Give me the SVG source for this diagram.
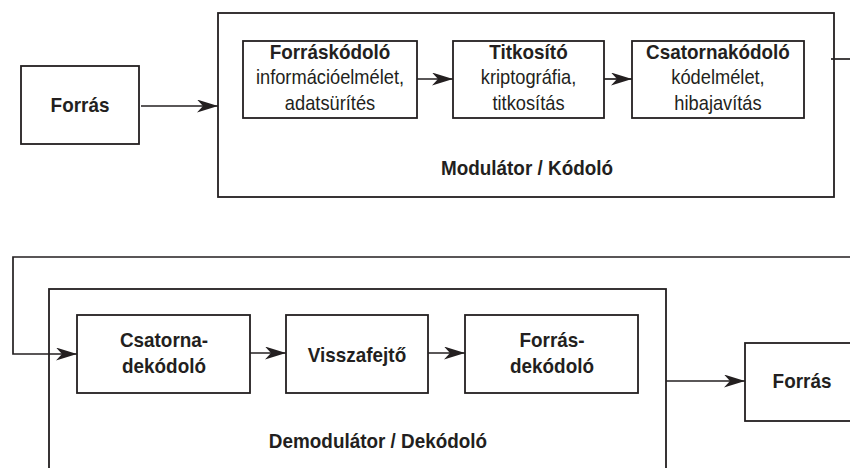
<svg xmlns="http://www.w3.org/2000/svg" width="850" height="468" viewBox="0 0 850 468">
<style>
.box{fill:none;stroke:#231f20;stroke-width:1.8}
.ln{fill:none;stroke:#231f20;stroke-width:1.7}
text{font-family:"Liberation Sans",Arial,sans-serif;font-size:21px;fill:#231f20;text-anchor:middle}
.b{font-weight:bold}
</style>
<defs>
<marker id="ah" viewBox="0 0 21 13" refX="21" refY="6.5" markerWidth="21" markerHeight="13" markerUnits="userSpaceOnUse" orient="auto">
<path d="M0,0 L21,6.5 L0,13 L6,6.5 Z" fill="#231f20"/>
</marker>
</defs>
<rect width="850" height="468" fill="#ffffff"/>
<g id="source">
<rect class="box" x="21" y="66" width="118" height="78"/>
<text class="b" transform="translate(80,112) scale(0.9,1)">Forrás</text>
</g>
<g id="modulator">
<rect class="box" x="218" y="13" width="616" height="184"/>
<text class="b" transform="translate(527,175) scale(0.9,1)">Modulátor / Kódoló</text>
</g>
<g id="source-encoder">
<rect class="box" x="243" y="41" width="174" height="77"/>
<text class="b" transform="translate(330,59) scale(0.9,1)">Forráskódoló</text>
<text transform="translate(330,84) scale(0.87,1)">információelmélet,</text>
<text transform="translate(330,110) scale(0.87,1)">adatsürítés</text>
</g>
<g id="encryptor">
<rect class="box" x="453" y="41" width="151" height="77"/>
<text class="b" transform="translate(528.5,59) scale(0.9,1)">Titkosító</text>
<text transform="translate(528.5,84) scale(0.87,1)">kriptográfia,</text>
<text transform="translate(528.5,110) scale(0.87,1)">titkosítás</text>
</g>
<g id="channel-encoder">
<rect class="box" x="632" y="41" width="172" height="77"/>
<text class="b" transform="translate(718,59) scale(0.9,1)">Csatornakódoló</text>
<text transform="translate(718,84) scale(0.87,1)">kódelmélet,</text>
<text transform="translate(718,110) scale(0.87,1)">hibajavítás</text>
</g>
<g id="demodulator">
<rect class="box" x="49" y="289" width="617" height="200"/>
<text class="b" transform="translate(378,448) scale(0.9,1)">Demodulátor / Dekódoló</text>
</g>
<g id="channel-decoder">
<rect class="box" x="77" y="315" width="173" height="78"/>
<text class="b" transform="translate(164,347) scale(0.9,1)">Csatorna-</text>
<text class="b" transform="translate(164,373) scale(0.9,1)">dekódoló</text>
</g>
<g id="decryptor">
<rect class="box" x="286" y="315" width="142" height="78"/>
<text class="b" transform="translate(357,362) scale(0.9,1)">Visszafejtő</text>
</g>
<g id="source-decoder">
<rect class="box" x="465" y="315" width="173" height="78"/>
<text class="b" transform="translate(552,347) scale(0.9,1)">Forrás-</text>
<text class="b" transform="translate(552,373) scale(0.9,1)">dekódoló</text>
</g>
<g id="sink">
<rect class="box" x="745" y="343" width="120" height="78"/>
<text class="b" transform="translate(802,388) scale(0.9,1)">Forrás</text>
</g>
<g id="connectors">
<line class="ln" x1="141" y1="106" x2="218" y2="106" marker-end="url(#ah)"/>
<line class="ln" x1="417" y1="79" x2="453" y2="79" marker-end="url(#ah)"/>
<line class="ln" x1="604" y1="79" x2="632" y2="79" marker-end="url(#ah)"/>
<line class="ln" x1="831" y1="59" x2="850" y2="59"/>
<polyline class="ln" points="850,257 13,257 13,354 77,354" marker-end="url(#ah)"/>
<line class="ln" x1="250" y1="353" x2="286" y2="353" marker-end="url(#ah)"/>
<line class="ln" x1="428" y1="353" x2="465" y2="353" marker-end="url(#ah)"/>
<line class="ln" x1="666" y1="381" x2="745" y2="381" marker-end="url(#ah)"/>
</g>
</svg>
